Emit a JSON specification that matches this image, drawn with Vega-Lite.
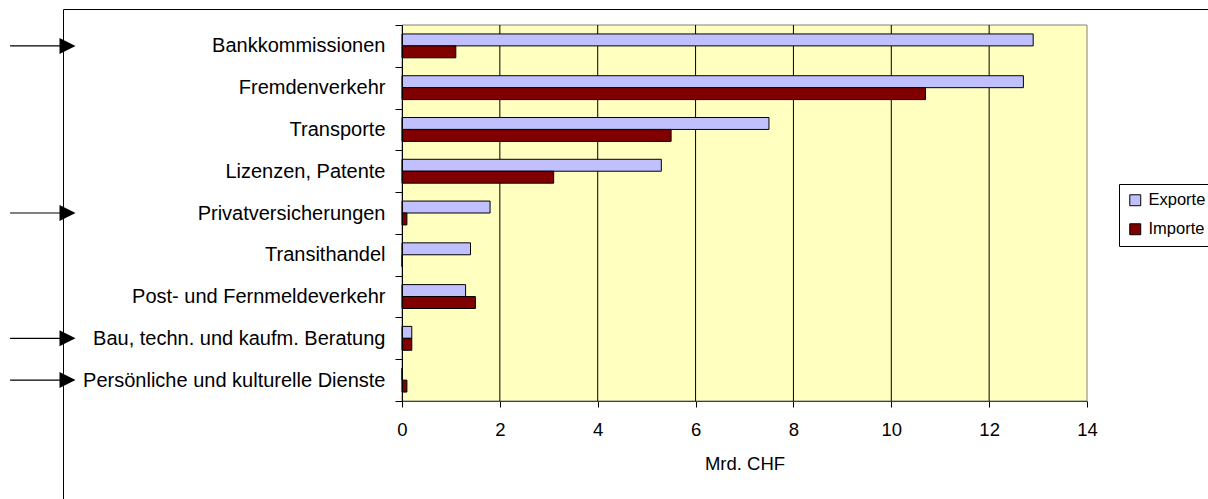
{
  "$schema": "https://vega.github.io/schema/vega-lite/v6.json",
  "width": 1145,
  "height": 490,
  "autosize": {"type": "none"},
  "padding": {"left": 63, "top": 9, "right": 0, "bottom": 0},
  "background": "white",
  "config": {
    "view": {"stroke": "black", "strokeWidth": 1, "fill": "white"},
    "font": "Liberation Sans",
    "axis": {"labelFont": "Liberation Sans", "titleFont": "Liberation Sans", "labelColor": "black", "titleColor": "black"},
    "legend": {"labelFont": "Liberation Sans", "labelColor": "black"}
  },
  "data": {
    "values": [
      {"Kategorie": "Bankkommissionen", "Strom": "Exporte", "Wert": 12.9, "markiert": true},
      {"Kategorie": "Bankkommissionen", "Strom": "Importe", "Wert": 1.1, "markiert": true},
      {"Kategorie": "Fremdenverkehr", "Strom": "Exporte", "Wert": 12.7, "markiert": false},
      {"Kategorie": "Fremdenverkehr", "Strom": "Importe", "Wert": 10.7, "markiert": false},
      {"Kategorie": "Transporte", "Strom": "Exporte", "Wert": 7.5, "markiert": false},
      {"Kategorie": "Transporte", "Strom": "Importe", "Wert": 5.5, "markiert": false},
      {"Kategorie": "Lizenzen, Patente", "Strom": "Exporte", "Wert": 5.3, "markiert": false},
      {"Kategorie": "Lizenzen, Patente", "Strom": "Importe", "Wert": 3.1, "markiert": false},
      {"Kategorie": "Privatversicherungen", "Strom": "Exporte", "Wert": 1.8, "markiert": true},
      {"Kategorie": "Privatversicherungen", "Strom": "Importe", "Wert": 0.1, "markiert": true},
      {"Kategorie": "Transithandel", "Strom": "Exporte", "Wert": 1.4, "markiert": false},
      {"Kategorie": "Transithandel", "Strom": "Importe", "Wert": 0, "markiert": false},
      {"Kategorie": "Post- und Fernmeldeverkehr", "Strom": "Exporte", "Wert": 1.3, "markiert": false},
      {"Kategorie": "Post- und Fernmeldeverkehr", "Strom": "Importe", "Wert": 1.5, "markiert": false},
      {"Kategorie": "Bau, techn. und kaufm. Beratung", "Strom": "Exporte", "Wert": 0.2, "markiert": true},
      {"Kategorie": "Bau, techn. und kaufm. Beratung", "Strom": "Importe", "Wert": 0.2, "markiert": true},
      {"Kategorie": "Persönliche und kulturelle Dienste", "Strom": "Exporte", "Wert": 0, "markiert": true},
      {"Kategorie": "Persönliche und kulturelle Dienste", "Strom": "Importe", "Wert": 0.1, "markiert": true}
    ]
  },
  "layer": [
    {
      "data": {"values": [{}]},
      "mark": {"type": "rect", "fill": "#FFFFC0", "stroke": "#808080", "strokeWidth": 1},
      "encoding": {
        "x": {"datum": 0, "type": "quantitative"},
        "x2": {"datum": 14},
        "y": {"datum": "Bankkommissionen", "type": "nominal", "bandPosition": 0},
        "y2": {"datum": "Persönliche und kulturelle Dienste", "bandPosition": 1}
      }
    },
    {
      "data": {"values": [{}]},
      "encoding": {
        "y": {"datum": "Bankkommissionen", "type": "nominal", "bandPosition": 0},
        "y2": {"datum": "Persönliche und kulturelle Dienste", "bandPosition": 1}
      },
      "layer": [
        {"mark": {"type": "rule", "color": "black", "strokeWidth": 1}, "encoding": {"x": {"datum": 2, "type": "quantitative"}}},
        {"mark": {"type": "rule", "color": "black", "strokeWidth": 1}, "encoding": {"x": {"datum": 4, "type": "quantitative"}}},
        {"mark": {"type": "rule", "color": "black", "strokeWidth": 1}, "encoding": {"x": {"datum": 6, "type": "quantitative"}}},
        {"mark": {"type": "rule", "color": "black", "strokeWidth": 1}, "encoding": {"x": {"datum": 8, "type": "quantitative"}}},
        {"mark": {"type": "rule", "color": "black", "strokeWidth": 1}, "encoding": {"x": {"datum": 10, "type": "quantitative"}}},
        {"mark": {"type": "rule", "color": "black", "strokeWidth": 1}, "encoding": {"x": {"datum": 12, "type": "quantitative"}}}
      ]
    },
    {
      "mark": {"type": "bar", "stroke": "black", "strokeWidth": 1},
      "encoding": {
        "y": {
          "field": "Kategorie",
          "type": "nominal",
          "sort": null,
          "scale": {
            "domain": ["Bankkommissionen", "Fremdenverkehr", "Transporte", "Lizenzen, Patente", "Privatversicherungen", "Transithandel", "Post- und Fernmeldeverkehr", "Bau, techn. und kaufm. Beratung", "Persönliche und kulturelle Dienste"],
            "range": [16, 392],
            "paddingInner": 0,
            "paddingOuter": 0
          },
          "axis": {
            "title": null,
            "orient": "left",
            "offset": -339,
            "zindex": 1,
            "grid": false,
            "domainColor": "black",
            "domainWidth": 1,
            "tickColor": "black",
            "tickSize": 7,
            "tickWidth": 1,
            "tickBand": "extent",
            "labelFontSize": 20,
            "labelColor": "black",
            "labelPadding": 10,
            "labelLimit": 400
          }
        },
        "yOffset": {
          "field": "Strom",
          "type": "nominal",
          "scale": {"domain": ["Exporte", "Importe"], "paddingInner": 0, "paddingOuter": 0.75}
        },
        "x": {
          "field": "Wert",
          "type": "quantitative",
          "scale": {"domain": [0, 14], "range": [339, 1024], "nice": false},
          "axis": {
            "title": "Mrd. CHF",
            "orient": "bottom",
            "offset": -98,
            "zindex": 1,
            "grid": false,
            "values": [0, 2, 4, 6, 8, 10, 12, 14],
            "format": "d",
            "domainColor": "#404040",
            "domainWidth": 1,
            "tickColor": "black",
            "tickSize": 6,
            "labelFontSize": 18.5,
            "labelPadding": 13,
            "labelFlush": false,
            "labelColor": "black",
            "titleFontSize": 18.5,
            "titleFontWeight": "normal",
            "titlePadding": 16
          }
        },
        "color": {
          "field": "Strom",
          "type": "nominal",
          "scale": {"domain": ["Exporte", "Importe"], "range": ["#C0C0FF", "#800000"]},
          "legend": {
            "title": null,
            "orient": "none",
            "legendX": 1056,
            "legendY": 175,
            "symbolType": "square",
            "symbolSize": 120,
            "symbolStrokeColor": "black",
            "symbolStrokeWidth": 1,
            "labelFontSize": 16.5,
            "labelOffset": 5,
            "rowPadding": 12,
            "strokeColor": "black",
            "fillColor": "white",
            "padding": 8
          }
        }
      }
    },
    {
      "transform": [{"filter": "datum.markiert && datum.Strom === 'Exporte'"}],
      "mark": {"type": "rule", "color": "black", "strokeWidth": 1.2},
      "encoding": {
        "y": {"field": "Kategorie", "type": "nominal", "sort": null},
        "x": {"datum": -8.01, "type": "quantitative"},
        "x2": {"datum": -6.9}
      }
    },
    {
      "transform": [{"filter": "datum.markiert && datum.Strom === 'Exporte'"}],
      "mark": {"type": "point", "shape": "M-1,-1L1,0L-1,1Z", "filled": true, "color": "black", "opacity": 1, "size": 256},
      "encoding": {
        "y": {"field": "Kategorie", "type": "nominal", "sort": null},
        "x": {"datum": -6.836, "type": "quantitative"}
      }
    }
  ]
}
